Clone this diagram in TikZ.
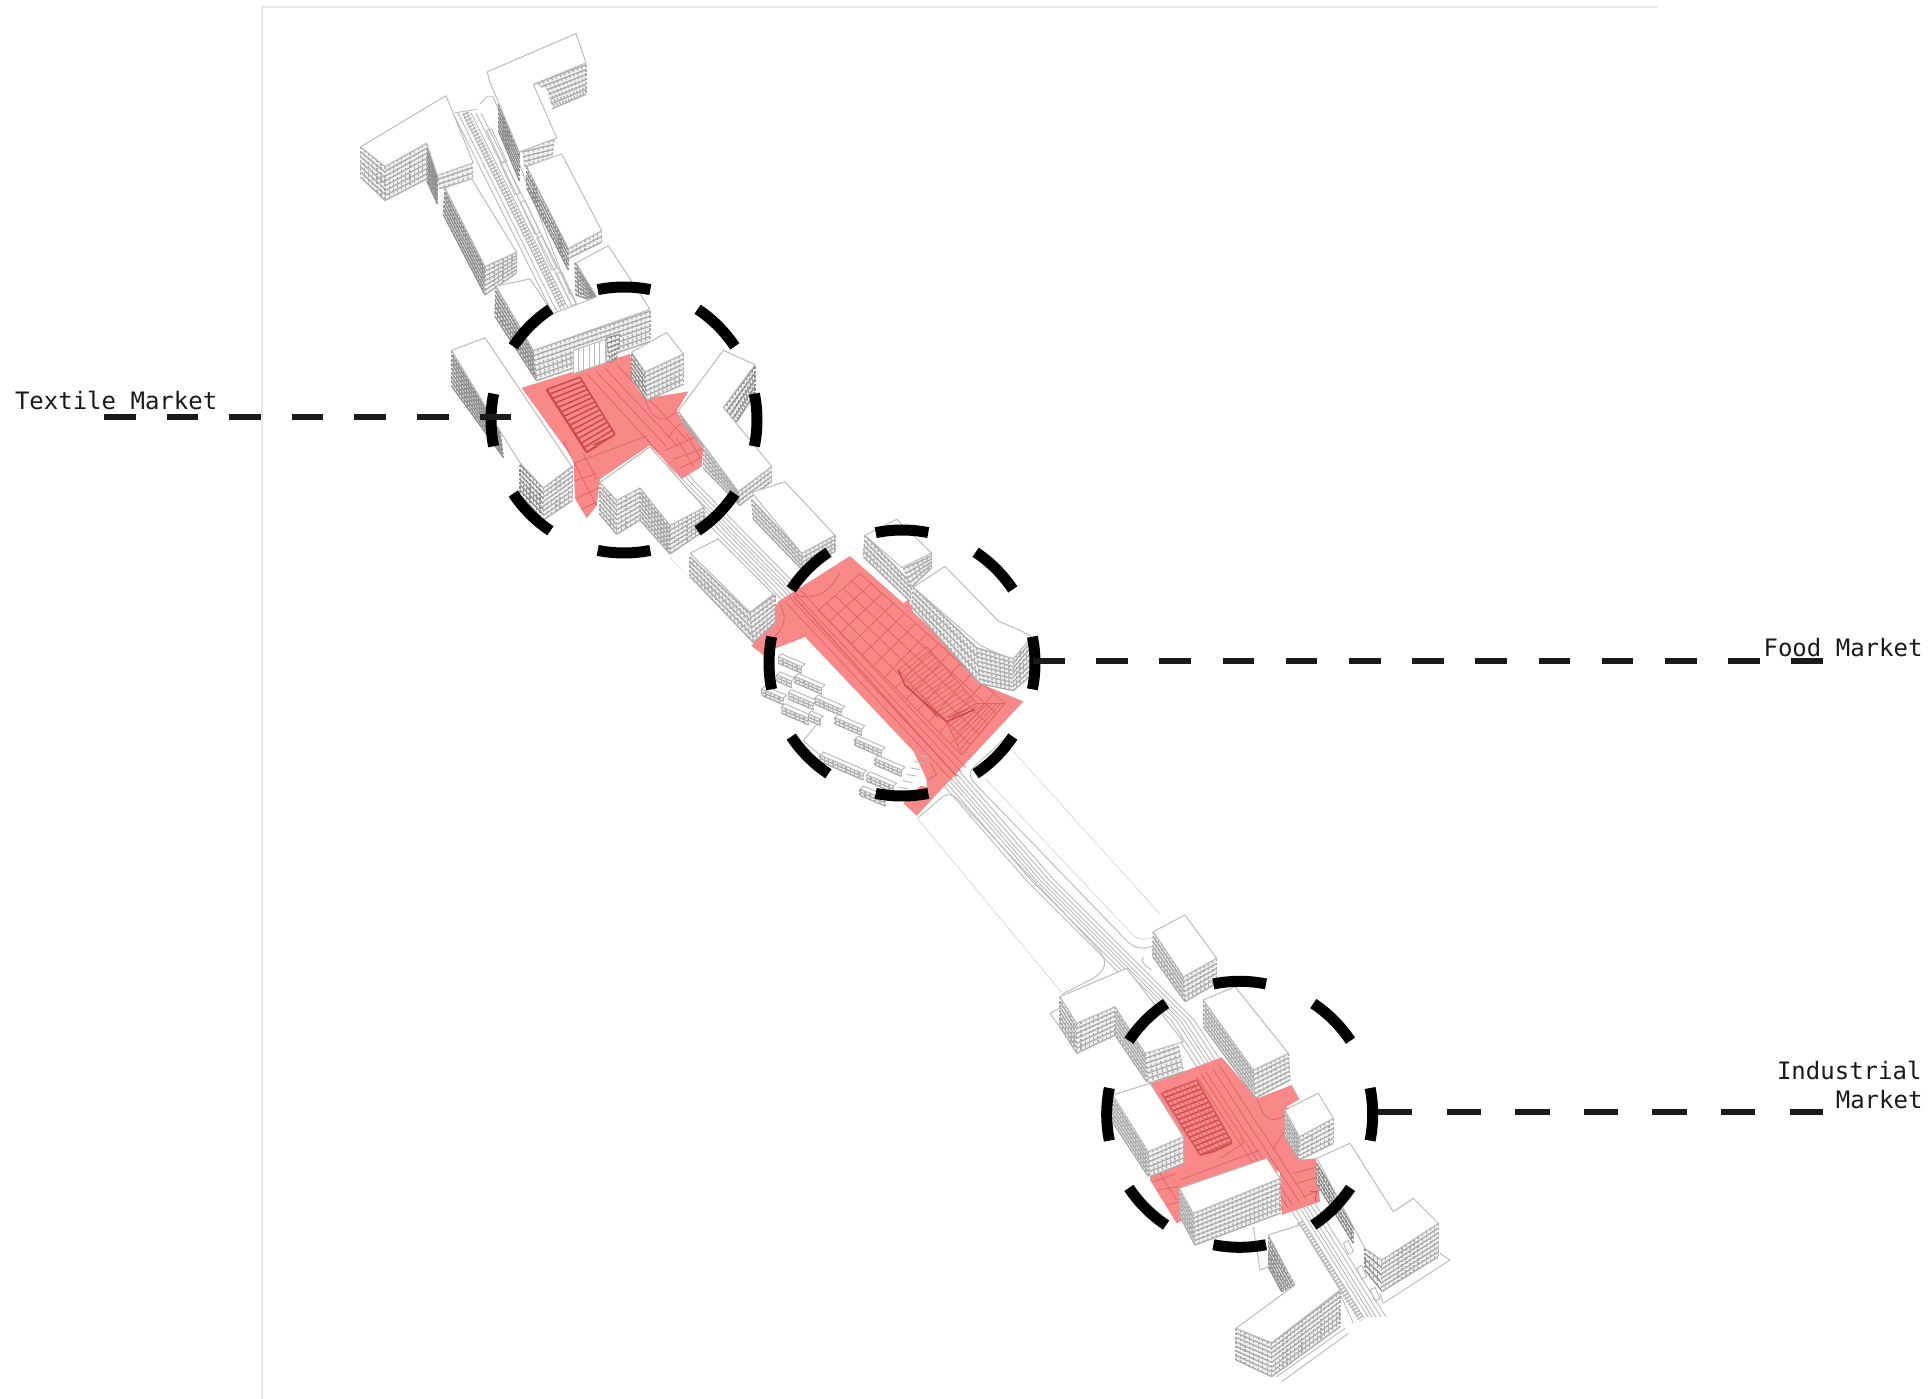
\documentclass[tikz,border=0pt]{standalone}
\usepackage{fontspec}
\setmonofont{DejaVu Sans Mono}
\usetikzlibrary{calc}
\definecolor{plaza}{HTML}{F98989}
\definecolor{plazaln}{HTML}{DB6464}
\definecolor{mktln}{HTML}{CB4A4A}
\definecolor{facbase}{HTML}{F0F0F0}
\definecolor{facl}{HTML}{ABABAB}
\definecolor{facd}{HTML}{8F8F8F}
\definecolor{roofln}{HTML}{BCBCBC}
\definecolor{roadln}{HTML}{BABABA}
\definecolor{lawnln}{HTML}{DEDEDE}
\definecolor{leaderc}{HTML}{1A1A1A}
\tikzset{
 roof/.style={fill=white,draw=roofln,line width=1pt,line join=round},
 facfill/.style={fill=facbase},
 facline/.style={draw=facl,line width=1.3pt},
 facdark/.style={draw=facd,line width=1.3pt},
 roadline/.style={draw=roadln,line width=.9pt},
 lawn/.style={draw=lawnln,line width=.9pt},
 plazafill/.style={fill=plaza},
 plazaline/.style={draw=plazaln,line width=.7pt},
 mktline/.style={draw=mktln,line width=1.5pt},
 ringarc/.style={draw=black,line width=11pt,line cap=butt},
 leaderA/.style={draw=leaderc,line width=6pt,dash pattern=on 31.6pt off 31pt},
 leaderB/.style={draw=leaderc,line width=6pt,dash pattern=on 31.6pt off 31.6pt},
 leaderC/.style={draw=leaderc,line width=6pt,dash pattern=on 34.3pt off 34.3pt},
 lab/.style={inner sep=0pt,outer sep=0pt,text=leaderc,font=\fontsize{24pt}{29pt}\selectfont\ttfamily},
 frameln/.style={draw=black!9,line width=2pt},
 zoomA/.style={x=.33333pt,y=-.35714pt},
 zoomC/.style={x=.33333pt,y=-.33333pt},
}
% facade: a-b top edge, d-c bottom edge
\newcommand{\fac}[5][facline]{%
 \fill[facfill] (#2)--(#3)--(#4)--(#5)--cycle;
 \path let \p1=($(#3)-(#2)$),\n1={veclen(\x1,\y1)},\p2=($(#5)-(#2)$),\n2={veclen(\x2,\y2)} in
  \pgfextra{\pgfmathtruncatemacro\nA{max(2,\n1/4.6)}\pgfmathtruncatemacro\nB{max(2,\n2/4.4)}\xdef\nAg{\nA}\xdef\nBg{\nB}};
 \edef\nAl{\nAg}\edef\nBl{\nBg}%
 \foreach \i in {0,...,\nAl} {\draw[#1,dash pattern=on 2.6pt off 1.7pt] ($(#2)!\i/\nAl!(#3)$)--($(#5)!\i/\nAl!(#4)$);}
 \foreach \i in {0,...,\nBl} {\draw[#1] ($(#2)!\i/\nBl!(#5)$)--($(#3)!\i/\nBl!(#4)$);}
}
% stripes and grids on the ground
\newcommand{\grd}[7]{%
 \foreach \i in {0,...,#6} {\draw[#1] ($(#2)!\i/#6!(#3)$)--($(#5)!\i/#6!(#4)$);}
 \foreach \i in {0,...,#7} {\draw[#1] ($(#2)!\i/#7!(#5)$)--($(#3)!\i/#7!(#4)$);}
}
% small terrace bar
\newcommand{\tbar}[3]{%
 \fac{#1,#2}{#1+#3,#2+#3*.4}{#1+#3,#2+#3*.4+18}{#1,#2+18}
 \draw[roof] (#1,#2)--(#1+#3,#2+#3*.4)--(#1+#3+10,#2+#3*.4-8)--(#1+10,#2-8)--cycle;
}
\begin{document}
\begin{tikzpicture}[x=1pt,y=-1pt]
\useasboundingbox (0,0) rectangle (1928,1399);
\fill[white] (0,0) rectangle (1928,1399);
\coordinate (fa) at (262,1399); \coordinate (fb) at (262,7); \coordinate (fc) at (1658,7);
\draw[frameln] (fa)--(fb)--(fc);

% ---- road, whole length
\foreach \d in {-14,-9,-4,0,4,9,14}
 \draw[roadline,xshift=\d pt] (467,113)--(563,306)--(600,372)--(680,481)--(787,590)--(953,780)--(1040,880)--(1180,1020)--(1307,1213)--(1372,1317);
\draw[draw=roadln,line width=7pt,dash pattern=on 1.6pt off 1.8pt] (465,113)--(563,306);
\draw[draw=roadln,line width=7pt,dash pattern=on 1.6pt off 1.8pt] (1300,1222)--(1362,1320);

% ---- lawns of the middle stretch (zoom 2 coords)
\begin{scope}[shift={(660,480)},zoomA]
 \draw[lawn] (770,945)--(1205,1435);
 \draw[roadline] (775,945)--(850,885) .. controls (870,875) and (885,885) .. (900,900)--(1320,1320) .. controls (1345,1350) and (1335,1375) .. (1300,1395)--(1205,1440);
 \draw[roadline] (1050,710)--(940,805) .. controls (925,820) and (930,835) .. (945,850)--(1400,1290) .. controls (1425,1315) and (1465,1320) .. (1500,1290);
 \draw[lawn] (1060,760)--(1500,1215);
 \draw[lawn] (975,835)--(1420,1275) .. controls (1440,1290) and (1470,1290) .. (1500,1270);
\end{scope}

% ---- plaza 1 (zoom 1 coords) 
\begin{scope}[shift={(330,20)},zoomA]
 \fill[plazafill] (575,1030)--(900,935)--(910,985)--(905,1010)--(945,1060)--(1075,1040)--(1040,1095)--(1060,1130)--(1120,1200)--(1115,1250)--(1055,1285)--(960,1190)--(810,1285)--(800,1360)--(770,1395)--(735,1340)--(730,1230)--cycle;
 \foreach \a/\b/\c/\e in {770/990/985/1210,800/985/1010/1195,825/975/1045/1195,860/965/1075/1180}
  \draw[plazaline] (\a,\b)--(\c,\e);
 \draw[plazaline] (945,1060) .. controls (965,1120) and (1000,1135) .. (1040,1095);
 \draw[plazaline] (1015,1170) .. controls (1030,1150) and (1040,1130) .. (1060,1130);
 \draw[plazaline] (1005,1205)--(1115,1160) (1030,1230)--(1118,1200) (1050,1255)--(1115,1225);
 \draw[plazaline] (1040,1170)--(1090,1250) (1070,1160)--(1110,1225);
 \draw[plazaline] (735,1240)--(950,1165) (735,1290)--(800,1270) (740,1340)--(805,1310) (755,1370)--(800,1350);
 \draw[plazaline] (700,1180)--(800,1360) (760,1215)--(800,1285);
 \grd{mktline}{650,1035}{750,1000}{855,1160}{770,1210}{1}{14}
 \draw[mktline,line width=2.2pt] (650,1035)--(770,1210);
 \draw[mktline] (770,1210)--(800,1195) (790,1190)--(850,1165);
\end{scope}

% ---- plaza 2 (zoom 2 coords)
\begin{scope}[shift={(660,480)},zoomA]
 \fill[plazafill] (275,465)--(355,340)--(570,213)--(730,345)--(745,335)--(760,370)--(930,520)--(960,570)--(1090,620)--(770,940)--(730,905)--(800,840)--(760,760)--(435,440)--(350,470)--(310,490)--cycle;
 \foreach \s in {0,14,28,42}
  \draw[plazaline] (375+\s,340-\s*.85)--(875+\s,840-\s*.85);
 \draw[plazaline,line width=1.2pt] (400,325)--(890,830);
 \draw[plazaline] (405,320) .. controls (450,340) and (510,320) .. (540,258);
 \draw[plazaline] (360,350) .. controls (385,385) and (370,420) .. (340,440);
 \grd{plazaline}{475,365}{600,262}{1035,625}{905,770}{5}{13}
 \grd{plazaline}{715,532}{800,467}{950,625}{860,677}{1}{16}
 \grd{plazaline}{860,677}{950,625}{1035,625}{905,770}{1}{7}
 \draw[mktline] (715,532)--(735,575)--(860,677)--(945,642);
 \draw[mktline,line width=.9pt] (740,575)--(835,665) (865,665)--(925,640);
 \draw[plazaline] (800,840)--(830,825)--(810,790);
\end{scope}

% ---- plaza 3 (zoom 3 coords)
\begin{scope}[shift={(1020,880)},zoomC]
 \fill[plazafill] (390,612)--(605,532)--(712,655)--(815,615)--(838,658)--(800,680)--(835,840)--(888,835)--(900,965)--(785,1005)--(780,870)--(470,1030)--(390,900)--cycle;
 \foreach \s in {0,14,28,48,68}
  \draw[plazaline] (530+\s,590-\s*.5)--(790+\s,990-\s*.5);
 \draw[plazaline] (712,655) .. controls (730,730) and (770,730) .. (800,700);
 \draw[plazaline] (760,810) .. controls (770,780) and (790,760) .. (800,750);
 \draw[plazaline] (480,900)--(720,810) (400,905)--(470,880) (410,930)--(480,920) (440,975)--(480,965) (820,880)--(895,860) (830,910)--(900,890) (850,950)--(900,930);
 \draw[plazaline] (420,880)--(470,960);
 \grd{mktline}{425,640}{530,600}{635,785}{540,825}{1}{14}
 \grd{plazaline}{425,640}{530,600}{635,785}{540,825}{8}{1}
 \draw[mktline] (540,825)--(580,815)--(635,790);
 \draw[plazaline] (600,835)--(670,790)--(660,770);
 \draw[mktline,line width=.8pt] (870,935)--(890,935)--(885,965);
\end{scope}

% ---- buildings top group (zoom 1 coords)
\begin{scope}[shift={(330,20)},zoomA]
 \draw[roadline] (450,235)--(470,215)--(490,215)--(720,770);
 \draw[roadline] (375,260)--(440,250);
 \foreach \x/\y in {470/310,510/400,570/510,620/610,680/710}
  \draw[roadline] (\x,\y)--(\x+15,\y-5)--(\x+60,\y+85)--(\x+45,\y+90)--cycle;
 % T-block
 \fac[facdark]{290,345}{322,435}{322,515}{290,450}
 \fac{165,410}{290,345}{290,445}{165,505}
 \fac{92,355}{165,410}{165,505}{92,440}
 \fac{322,432}{425,398}{428,445}{330,472}
 \draw[roof] (92,355)--(348,212)--(430,400)--(322,435)--(290,345)--(165,410)--cycle;
 % wing 2
 \fac[facdark]{345,470}{465,690}{465,770}{340,545}
 \fac{465,690}{560,650}{560,708}{465,770}
 \draw[roof] (345,470)--(425,445)--(560,650)--(465,690)--cycle;
 % F block
 \fac{612,180}{768,125}{768,208}{668,248}
 \fill[white] (612,180)--(650,195)--(668,248)--(640,235)--cycle;
 \fac{578,355}{672,335}{665,390}{585,410}
 \fac[facdark]{505,235}{568,370}{568,450}{505,310}
 \draw[roof] (472,145)--(738,38)--(768,120)--(610,180)--(680,330)--(568,370)--(478,170)--cycle;
 % block 4
 \fac[facdark]{590,410}{715,645}{715,700}{590,470}
 \fac{715,640}{815,590}{815,622}{715,668}
 \draw[roof] (590,410)--(695,375)--(815,590)--(715,640)--cycle;
 % cross block
 \fac[facdark]{735,680}{800,770}{800,790}{738,770}
 \fac[facdark]{498,745}{610,925}{620,1010}{495,830}
 \fac{610,925}{960,815}{960,900}{620,1010}
 \fill[white] (730,925)--(825,895)--(825,960)--(730,990)--cycle;
 \grd{roadline}{730,925}{825,895}{825,960}{730,990}{6}{1}
 \fac[facdark]{830,890}{870,880}{860,945}{840,960}
 \draw[roof] (498,745)--(600,725)--(670,822)--(800,775)--(738,680)--(835,632)--(960,810)--(610,925)--cycle;
 % cube
 \fac[facdark]{905,935}{945,985}{950,1065}{905,1000}
 \fac{945,985}{1060,935}{1060,1020}{950,1065}
 \draw[roof] (905,930)--(1010,875)--(1060,935)--(945,985)--cycle;
 % long left bar
 \fac[facdark]{365,925}{510,1150}{520,1225}{365,1025}
 \fac[facdark]{570,1245}{640,1310}{640,1400}{570,1330}
 \fac{640,1310}{728,1250}{728,1345}{640,1400}
 \draw[roof] (365,925)--(465,890)--(725,1250)--(640,1310)--(570,1240)--(510,1150)--cycle;
 % V block
 \fac[facdark]{1180,1085}{1275,970}{1275,1045}{1220,1125}
 \fac{1120,1190}{1225,1320}{1230,1360}{1120,1255}
 \fac{1045,1095}{1120,1190}{1120,1195}{1060,1130}
 \fac{1225,1320}{1325,1250}{1325,1292}{1230,1358}
 \draw[roof] (1045,1095)--(1180,925)--(1275,965)--(1180,1085)--(1325,1250)--(1225,1320)--cycle;
 % bottom middle block
 \fac{810,1295}{860,1345}{860,1440}{810,1385}
 \fac{860,1345}{930,1310}{930,1400}{860,1440}
 \fac{930,1310}{1020,1415}{1020,1495}{930,1400}
 \fac{1020,1415}{1122,1365}{1122,1430}{1020,1495}
 \draw[roof] (810,1295)--(960,1195)--(1122,1365)--(1020,1415)--(930,1310)--(860,1345)--cycle;
\end{scope}

% ---- buildings middle group (zoom 2 coords)
\begin{scope}[shift={(660,480)},zoomA]
 % R1
 \fac{275,55}{425,205}{430,255}{280,110}
 \fac{425,205}{525,155}{525,200}{430,255}
 \draw[roof] (275,35)--(375,5)--(525,155)--(425,205)--cycle;
 % R2
 \draw[roadline] (30,215)--(275,460);
 \fill[white] (30,215)--(90,205)--(280,455)--(270,462)--cycle;
 \fac{90,215}{270,375}{280,455}{90,270}
 \fac{270,372}{345,322}{345,400}{280,455}
 \draw[roof] (90,205)--(175,165)--(340,320)--(270,370)--cycle;
 % plaza side buildings
 \fac{615,155}{755,290}{750,340}{610,215}
 \fac{725,235}{815,205}{815,245}{755,300}
 \draw[roof] (615,155)--(710,110)--(815,205)--(725,245)--cycle;
 % curved block
 \fac{760,300}{950,470}{960,570}{755,355}
 \fac{950,470}{1060,500}{1060,590}{960,570}
 \fac{1060,500}{1110,440}{1110,550}{1060,590}
 \draw[roof] (760,300)--(855,242)--(1015,395) .. controls (1050,410) and (1085,420) .. (1115,440)--(1060,500) .. controls (1020,490) and (970,470) .. (950,455)--cycle;
 % terraces
 \fill[white] (435,440)--(355,490)--(305,580)--(430,730)--(480,770)--(800,860)--(800,840)--(760,760)--cycle;
 \tbar{355}{495}{70}
 \tbar{350}{545}{45}
 \tbar{405}{550}{80}
 \tbar{305}{585}{65}
 \tbar{385}{595}{75}
 \tbar{465}{610}{80}
 \tbar{365}{635}{80}
 \tbar{445}{655}{35}
 \tbar{525}{665}{80}
 \tbar{585}{725}{80}
 \tbar{645}{780}{80}
 \tbar{480}{770}{130}
 \tbar{620}{825}{80}
 \tbar{600}{865}{75}
 \draw[roadline] (470,685)--(430,730)--(480,770);
 \foreach \i in {0,...,5}
  \draw[roadline] (715+\i*12,860-\i*18)--(745+\i*12,865-\i*18);
\end{scope}

% ---- buildings bottom group (zoom 3 coords)
\begin{scope}[shift={(1020,880)},zoomC]
 \draw[roadline] (370,230) .. controls (360,250) and (380,260) .. (395,270);
 % thin outlines
 \draw[roadline] (90,400)--(120,385) (90,400)--(175,520);
 \draw[roadline] (1090,1270)--(1290,1140)--(1260,1120);
 \draw[roadline] (1090,1270)--(1080,1240);
 \draw[roadline] (770,1490)--(975,1345) (785,1505)--(985,1360);
 \draw[roadline] (960,1240)--(1000,1330);
 \foreach \x/\y in {970/1090,1010/1165,1050/1230}
  \draw[roadline] (\x,\y)--(\x+15,\y-8)--(\x+30,\y+25)--(\x+15,\y+33)--cycle;
 \draw[roadline] (700,1040)--(720,1170)--(745,1160);
 % cube
 \fac{400,155}{490,290}{495,365}{398,230}
 \fac{490,290}{590,235}{590,310}{495,365}
 \draw[roof] (400,155)--(495,105)--(590,235)--(490,290)--cycle;
 % T left
 \fac{120,350}{170,430}{170,520}{120,440}
 \fac{170,430}{285,380}{285,465}{170,520}
 \fac{285,380}{375,520}{380,605}{285,465}
 \fac{375,520}{472,485}{490,575}{385,610}
 \draw[roof] (120,350)--(320,265)--(490,485)--(375,520)--(285,380)--(170,430)--cycle;
 % right big
 \fac{550,360}{700,570}{705,650}{550,440}
 \fac{700,570}{805,520}{810,600}{705,655}
 \draw[roof] (550,360)--(645,320)--(805,520)--(700,570)--cycle;
 % left cube
 \fac{278,645}{385,815}{385,890}{280,730}
 \fac{385,815}{490,770}{490,850}{390,890}
 \draw[roof] (278,645)--(390,610)--(490,770)--(385,815)--cycle;
 % small cube
 \fac{795,690}{838,770}{838,840}{795,770}
 \fac{838,770}{940,715}{940,790}{838,840}
 \draw[roof] (795,690)--(895,640)--(940,715)--(838,770)--cycle;
 % right Y
 \fac[facdark]{890,850}{1000,1030}{1000,1090}{890,910}
 \fac[facdark]{1035,1105}{1085,1140}{1085,1232}{1035,1170}
 \fac{1085,1140}{1255,1030}{1255,1130}{1085,1235}
 \draw[roof] (890,835)--(990,790)--(1120,995)--(1180,955)--(1255,1030)--(1085,1140)--(1035,1105)--cycle;
 % bar
 \fac{478,925}{520,1000}{525,1095}{480,1010}
 \fac{520,1000}{780,895}{780,1000}{525,1095}
 \draw[roof] (478,925)--(740,835)--(780,895)--(520,1000)--cycle;
 % lower
 \fac[facdark]{745,1070}{825,1215}{785,1235}{745,1160}
 \fac{648,1345}{755,1390}{755,1490}{648,1440}
 \fac{755,1390}{960,1235}{960,1340}{755,1490}
 \draw[roof] (745,1065)--(840,1035)--(960,1230)--(755,1388)--(648,1345)--(825,1215)--cycle;
\end{scope}

% ---- rings
\coordinate (r1) at (624,420);
\coordinate (r2) at (902,663);
\coordinate (r3) at (1239.7,1114.3);
\foreach \c/\cx/\cy in {r1/624/420,r2/902/663,r3/1239.7/1114.3}
 \foreach \a in {0,45,...,315} {
  \pgfmathsetmacro\aS{\a-11.4}\pgfmathsetmacro\aE{\a+11.4}
  \draw[ringarc] plot[domain=\aS:\aE,samples=14] ({\cx+133*cos(\x)},{\cy+133*sin(\x)});
 }

% ---- labels and leaders
\node[lab,anchor=base west] (textile) at (15,409) {Textile Market};
\node[lab,anchor=base east] (food) at (1922.5,656) {Food Market};
\node[lab,anchor=base east] (ind1) at (1921.5,1079.3) {Industrial};
\node[lab,anchor=base east] (ind2) at (1922.5,1108.3) {Market};
\coordinate (la) at (104,416.7); \coordinate (lb) at (511.5,416.7);
\coordinate (lc) at (1033,660.5); \coordinate (ld) at (1823,660.5);
\coordinate (le) at (1378,1111.7); \coordinate (lf) at (1823,1111.7);
\draw[leaderA] (la)--(lb);
\draw[leaderB] (lc)--(ld);
\draw[leaderC] (le)--(lf);
\end{tikzpicture}
\end{document}
